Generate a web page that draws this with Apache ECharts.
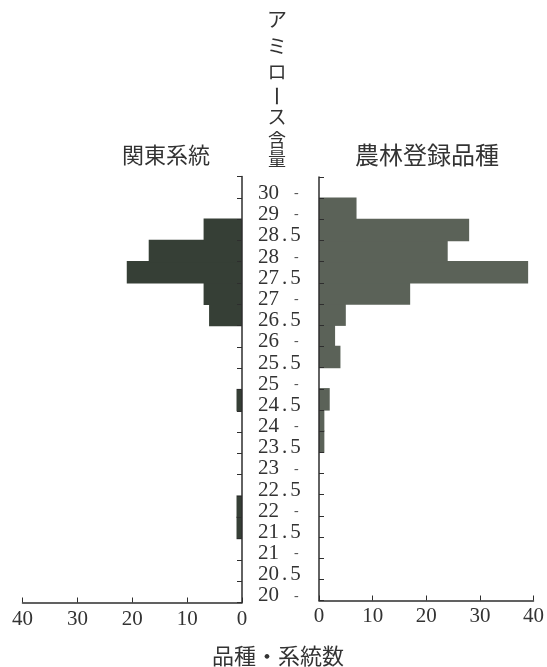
<!DOCTYPE html>
<html>
<head>
<meta charset="utf-8">
<script src="https://cdn.jsdelivr.net/npm/echarts@6/dist/echarts.min.js"></script>
<style>
html,body{margin:0;padding:0;background:#fff;}
#chart{width:547px;height:667px;}
</style>
</head>
<body>
<div id="chart"></div>
<script>
// Amylose content bins (bottom to top), labels as printed
const categories = ['20','20.5','21','21.5','22','22.5','23','23.5','24','24.5','25','25.5','26','26.5','27','27.5','28','28.5','29','30'];
// 関東系統 (left)
const kantoLines = [0,0,0,1,1,0,0,0,0,1,0,0,0,6,7,21,17,7,0,0];
// 農林登録品種 (right)
const norinVarieties = [0,0,0,0,0,0,0,1,1,2,0,4,3,5,17,39,24,28,7,0];
const xTicks = {min:0, max:40, interval:10};

const leftTitle = '関東系統';
const rightTitle = '農林登録品種';
const xTitle = '品種・系統数';
const yTitleChars = ['ア','ミ','ロ','ー','ス','含','量'];

const txt = '#333';
const serif = '"Liberation Serif", "DejaVu Serif", serif';
const cjk = '"Noto Sans CJK JP", sans-serif';

const chart = echarts.init(document.getElementById('chart'));

const axisLineStyle = {color:'#2e2e2e', width:1.5};
const yCharYs = [19,46,72,96,117,140,159];
const yCharSizes = [20,20,19,21,19,18,18];

const graphic = [
  {type:'text', x:166, y:155, style:{text:leftTitle, font:'22px '+cjk, fill:txt, textAlign:'center', textVerticalAlign:'middle'}},
  {type:'text', x:427, y:155, style:{text:rightTitle, font:'24px '+cjk, fill:txt, textAlign:'center', textVerticalAlign:'middle'}},
  {type:'text', x:278, y:656, style:{text:xTitle, font:'22px '+cjk, fill:txt, textAlign:'center', textVerticalAlign:'middle'}}
];
yTitleChars.forEach((c,i)=>{
  graphic.push({type:'text', x:277, y:yCharYs[i], rotation: c==='ー' ? -Math.PI/2 : 0,
    style:{text:c, font:yCharSizes[i]+'px '+cjk, fill:txt, textAlign:'center', textVerticalAlign:'middle'}});
});

const option = {
  animation:false,
  backgroundColor:'#fff',
  grid:[
    {left:22.5, top:176.5, width:219.5, height:426},
    {left:319, top:177, width:216, height:423.5}
  ],
  xAxis:[
    {gridIndex:0, type:'value', inverse:true, min:xTicks.min, max:xTicks.max, interval:xTicks.interval,
     axisLine:{show:true, onZero:false, lineStyle:axisLineStyle},
     axisTick:{show:true, inside:true, length:5, lineStyle:{color:'#2e2e2e', width:1}},
     splitLine:{show:false},
     axisLabel:{fontFamily:serif, fontSize:21, color:txt, margin:6}},
    {gridIndex:1, type:'value', min:xTicks.min, max:xTicks.max, interval:xTicks.interval,
     axisLine:{show:true, onZero:false, lineStyle:axisLineStyle},
     axisTick:{show:true, inside:true, length:5, lineStyle:{color:'#2e2e2e', width:1}},
     splitLine:{show:false},
     axisLabel:{fontFamily:serif, fontSize:21, color:txt, margin:5}}
  ],
  yAxis:[
    {gridIndex:0, type:'category', data:categories, position:'right', boundaryGap:true,
     axisLine:{show:true, onZero:false, lineStyle:axisLineStyle},
     axisTick:{show:true, inside:true, length:5, lineStyle:{color:'#2e2e2e', width:1}},
     axisLabel:{show:false}, splitLine:{show:false}, z:3},
    {gridIndex:1, type:'category', data:categories, position:'left', boundaryGap:true,
     axisLine:{show:true, onZero:false, lineStyle:axisLineStyle},
     axisTick:{show:true, inside:true, length:5, lineStyle:{color:'#2e2e2e', width:1}},
     splitLine:{show:false}, z:3,
     axisLabel:{show:true, interval:0, align:'left', margin:61, padding:[12,0,0,0],
       formatter:function(v){
         if (v.indexOf('.')>=0){ const p=v.split('.'); return '{d|'+p[0]+'}{p|.}{d|'+p[1]+'}'; }
         return '{d|'+v+'}{m|-}';
       },
       rich:{
         d:{fontFamily:serif, fontSize:21, color:txt},
         p:{fontFamily:serif, fontSize:21, color:txt, padding:[0,3,0,3]},
         m:{fontFamily:serif, fontSize:14, color:'#555', padding:[0,0,0,15]}
       }}}
  ],
  series:[
    {type:'bar', xAxisIndex:0, yAxisIndex:0, data:kantoLines, barWidth:22.5,
     itemStyle:{color:'#363f36'}},
    {type:'bar', xAxisIndex:1, yAxisIndex:1, data:norinVarieties, barWidth:22.5,
     itemStyle:{color:'#5b6258'}}
  ],
  graphic: graphic
};
chart.setOption(option);
</script>
</body>
</html>
